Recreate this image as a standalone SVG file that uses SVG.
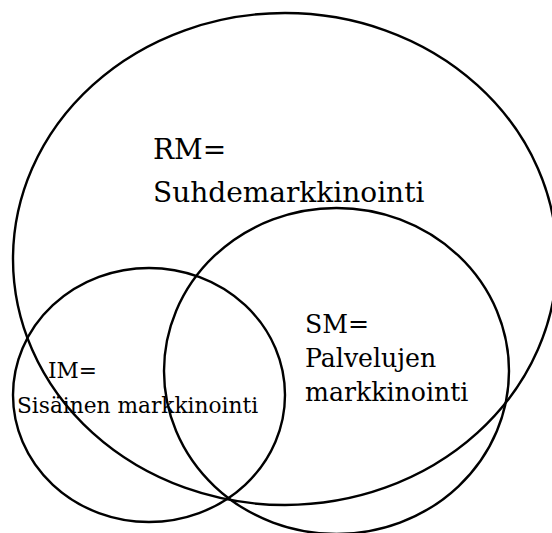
<svg xmlns="http://www.w3.org/2000/svg" width="552" height="533" viewBox="0 0 552 533">
<style>
.set{fill:none;stroke:#000;stroke-width:2.4}
.lbl{font-family:"DejaVu Serif","Liberation Serif",serif;fill:#000}
</style>
<rect width="552" height="533" fill="#fff"/>
<g id="RM">
<ellipse class="set" cx="285" cy="259" rx="272" ry="246"/>
<text class="lbl" font-size="28"><tspan x="153" y="159">RM=</tspan><tspan x="153" y="202">Suhdemarkkinointi</tspan></text>
</g>
<g id="SM">
<ellipse class="set" cx="336.5" cy="371" rx="172.5" ry="163"/>
<text class="lbl" font-size="25.2"><tspan x="305" y="333">SM=</tspan><tspan x="305" y="367">Palvelujen</tspan><tspan x="305" y="401">markkinointi</tspan></text>
</g>
<g id="IM">
<ellipse class="set" cx="149" cy="395" rx="136" ry="127"/>
<text class="lbl" font-size="21.7"><tspan x="48" y="378">IM=</tspan><tspan x="17" y="413">Sisäinen markkinointi</tspan></text>
</g>
<g id="connectors"></g>
</svg>
